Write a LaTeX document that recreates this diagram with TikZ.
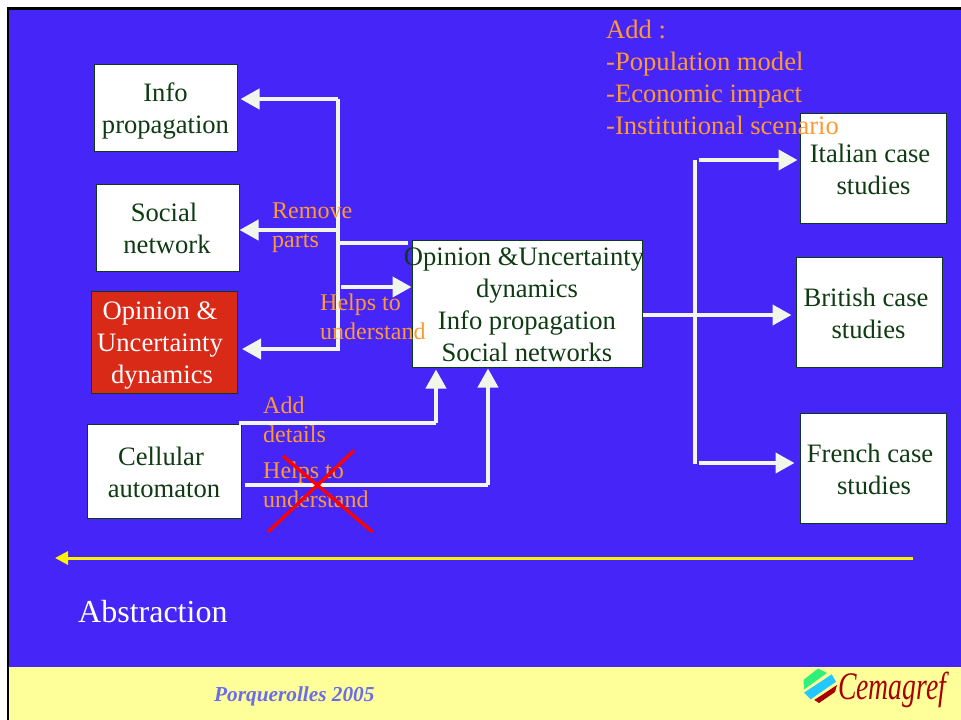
\documentclass[tikz,border=0pt]{standalone}
\usepackage{fontspec}
\setmainfont{Liberation Serif}
\usetikzlibrary{arrows.meta}
\definecolor{slidebg}{HTML}{4625F9}
\definecolor{foot}{HTML}{FFFF99}
\definecolor{lab}{HTML}{FF9933}
\definecolor{wire}{HTML}{F1F5EA}
\definecolor{ink}{HTML}{0E3B12}
\definecolor{redbox}{HTML}{D92A18}
\definecolor{footink}{HTML}{6A6CEE}
\definecolor{logored}{HTML}{A80000}
\definecolor{logogreen}{HTML}{2EF07A}
\definecolor{logoblue}{HTML}{22C8FF}
\tikzset{
  x=1pt,y=-1pt,
  boxst/.style={draw=ink,line width=1pt,fill=white,inner sep=0pt},
  boxtext/.style={text=ink,align=center,inner sep=0pt,font=\fontsize{26.6}{32}\selectfont},
  labeltext/.style={text=lab,align=left,inner sep=0pt,font=\fontsize{24}{29.5}\selectfont},
  wireline/.style={draw=wire,line width=4pt},
  wirearrow/.style={wireline,-{Triangle[length=19pt,width=20pt]}},
}
\newcommand{\slidebox}[6][white]{%
  \node[boxst,fill=#1,minimum width=#5pt-#3pt,minimum height=#6pt-#4pt] (#2) at ({(#3+#5)/2},{(#4+#6)/2}) {};}
\newcommand{\rs}[1]{\hspace*{#1pt}}
\begin{document}
\begin{tikzpicture}
\useasboundingbox (0,0) rectangle (961,720);
\fill[white] (0,0) rectangle (961,720);
\fill[black] (6.5,7) rectangle (961,720);
\fill[slidebg] (9,9.5) rectangle (961,667);
\fill[foot] (9,667) rectangle (961,720);

% boxes
\slidebox{info}{94}{64}{237}{151}
\slidebox{social}{96}{184}{239}{271}
\slidebox[redbox]{opin}{91}{291}{237}{393}
\slidebox{cell}{87}{424}{241}{518}
\slidebox{centre}{412}{240}{642}{367}
\slidebox{ital}{800}{113}{946}{223}
\slidebox{brit}{796}{257}{942}{367}
\slidebox{fren}{800}{413}{946}{523}

% connector points
\coordinate (tTop) at (338,99);
\coordinate (tBot) at (338,351);
\coordinate (tSoc) at (338,230);
\coordinate (tOp) at (338,349);
\coordinate (tOut) at (339,243);
\coordinate (tIn) at (341,287);
\coordinate (cA) at (436,423);
\coordinate (cB) at (488,485);
\coordinate (rTop) at (695,160);
\coordinate (rBot) at (695,464);
\coordinate (rMid) at (695,315);

\draw[wireline] (tTop) -- (tBot);
\draw[wirearrow] (tTop) -- ([xshift=3pt]info.east |- tTop);
\draw[wirearrow] (tSoc) -- (social.east |- tSoc);
\draw[wirearrow] (tOp) -- ([xshift=4.5pt]opin.east |- tOp);
\draw[wireline] (tOut) -- ([xshift=-4pt]centre.west |- tOut);
\draw[wirearrow] (tIn) -- (centre.west |- tIn);
\draw[wireline] ([xshift=-3pt]cell.north east |- cA) -- (cA);
\draw[wirearrow] (cA) -- ([yshift=-2pt]cA |- centre.south);
\draw[wireline] ([xshift=3pt]cell.east |- cB) -- (cB);
\draw[wirearrow] (cB) -- ([yshift=-1pt]cB |- centre.south);
\draw[wireline,line width=3.5pt] (rTop) -- (rBot);
\draw[wireline] (centre.east |- rMid) -- (rMid);
\draw[wirearrow] (rMid) -- ([xshift=-4pt]brit.west |- rMid);
\draw[wirearrow] ([xshift=4pt]rTop) -- ([xshift=-2pt]ital.west |- rTop);
\draw[wirearrow] ([xshift=4pt,yshift=1pt]rBot) -- ([xshift=-5pt,yshift=1pt]fren.west |- rBot);

% box texts
\node[boxtext] (infot) at (165.5,111.5) {Info\\propagation};
\node[boxtext] (soct) at (164,228.5) {Social\\\rs{6}network};
\node[boxtext,text=white] (opint) at (160,346) {Opinion \&\\Uncertainty\\\rs{4}dynamics};
\node[boxtext] (cellt) at (161,472.5) {Cellular\\\rs{6}automaton};
\node[boxtext] (centt) at (524,305) {Opinion \&Uncertainty\\\rs{6}dynamics\\\rs{6}Info propagation\\\rs{6}Social networks};
\node[boxtext] (italt) at (870,169.5) {Italian case\\\rs{7}studies};
\node[boxtext] (britt) at (866,313.5) {British case\\\rs{5}studies};
\node[boxtext] (frent) at (870,469.5) {French case\\\rs{8}studies};

% labels
\node[labeltext,anchor=west] (lremove) at (272,227.5) {Remove\\parts};
\node[labeltext,anchor=west] (lhelp1) at (320,317) {Helps to\\understand};
\node[labeltext,anchor=west] (ladd) at (263,420) {Add\\details};
\node[labeltext,anchor=west] (lhelp2) at (263,485) {Helps to\\understand};
\node[boxtext,text=lab,align=left,anchor=west] (laddlist) at (606,77) {Add :\\-Population model\\-Economic impact\\-Institutional scenario};

% cross
\coordinate (xa) at (283,456);
\coordinate (xb) at (372.5,532);
\coordinate (xc) at (268,532);
\coordinate (xd) at (354,450.5);
\draw[red,line width=3.3pt] (xa) -- (xb);
\draw[red,line width=3.3pt] (xc) -- (xd);

% abstraction arrow
\coordinate (absR) at (913,558);
\coordinate (absL) at (55,558);
\draw[draw=yellow,line width=3pt,-{Triangle[length=13pt,width=13pt]}] (absR) -- (absL);
\node[text=white,inner sep=0pt,anchor=west,font=\fontsize{32}{38}\selectfont] (abs) at (78,612) {Abstraction};

% footer
\node[text=footink,inner sep=0pt,anchor=west,font=\fontsize{21.3}{26}\selectfont\bfseries\itshape] (porq) at (214,696.5) {Porquerolles 2005};
\fill[logogreen] (803.5,680) -- (818,668.5) -- (827,673) -- (804,689.5) -- cycle;
\fill[logoblue] (804,692.7) -- (831.7,674.3) -- (836,681.7) -- (810.7,699.3) -- cycle;
\fill[logored] (814.3,700) -- (837,685) -- (835,692) -- (819,703) -- cycle;
\node[text=logored,inner sep=0pt,anchor=west,xscale=.71,font=\fontsize{39}{44}\selectfont\itshape] (logo) at (838,690) {Cemagref};
\end{tikzpicture}
\end{document}
